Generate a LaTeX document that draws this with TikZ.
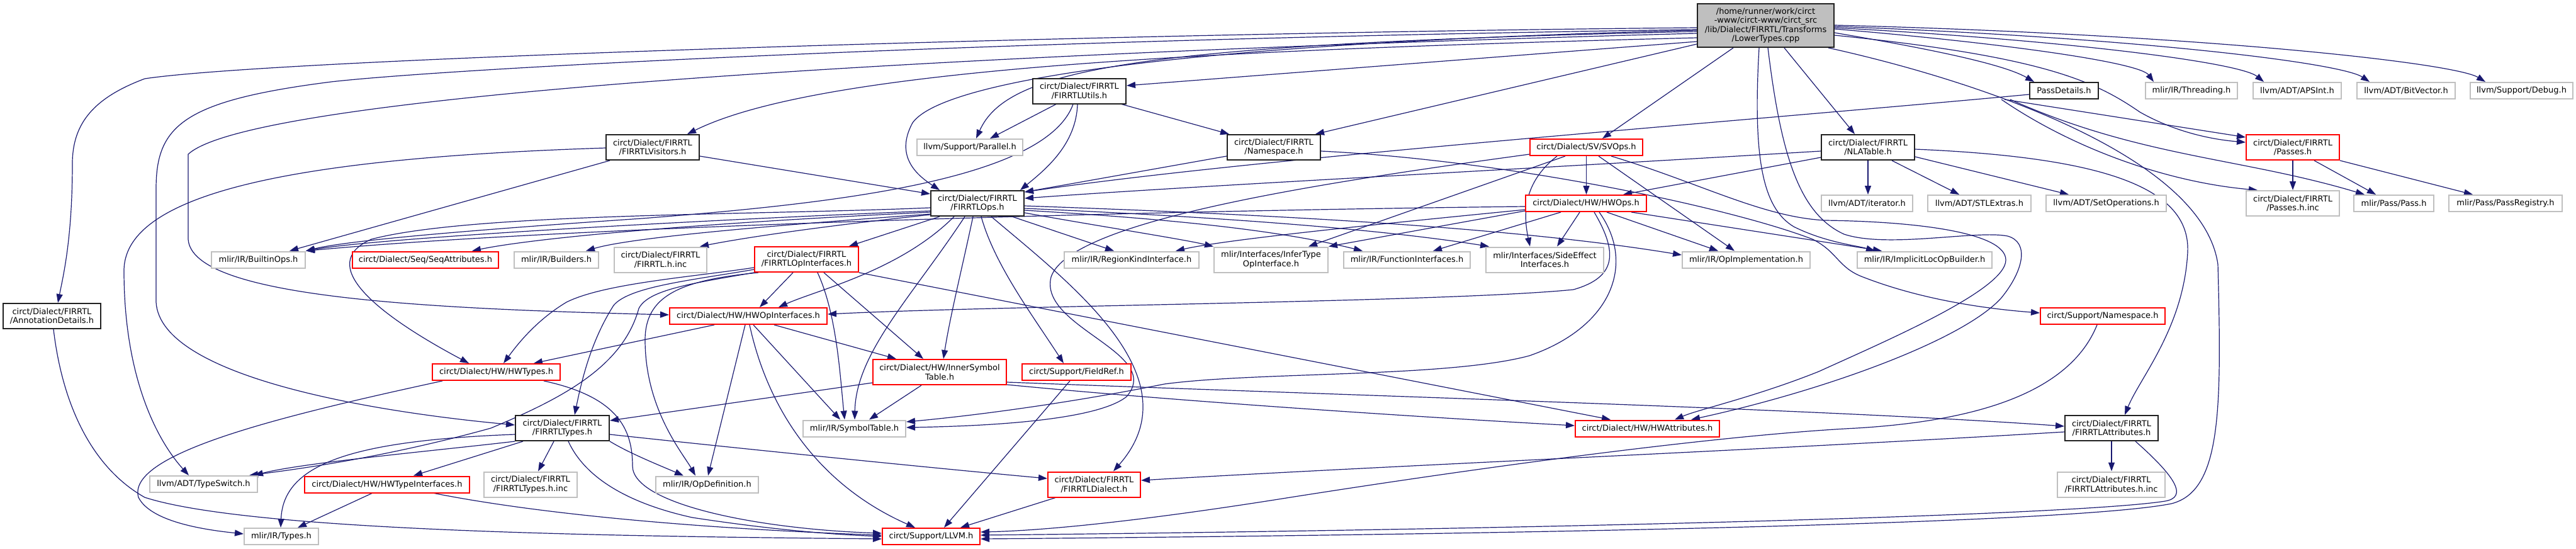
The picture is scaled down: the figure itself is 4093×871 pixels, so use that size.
\documentclass[tikz,border=0pt]{standalone}
\usepackage{fontspec}
\setmainfont{DejaVu Sans}
\usetikzlibrary{arrows.meta}
\pgfdeclarelayer{bg}
\pgfsetlayers{bg,main}
\definecolor{edgec}{HTML}{191970}
\definecolor{grayb}{HTML}{BFBFBF}
\definecolor{blackb}{HTML}{202020}
\begin{document}
\begin{tikzpicture}[x=1pt,y=-1pt,
  every node/.style={font=\fontsize{13}{14.6}\selectfont, align=center, inner sep=0pt, rectangle, fill=white},
  g/.style={draw=grayb, line width=2pt},
  k/.style={draw=blackb, line width=2pt},
  r/.style={draw=red, line width=2pt},
  a/.style={minimum height=26pt},
  b/.style={minimum height=40pt},
  e/.style={draw=edgec, line width=1.2pt, -{Triangle[length=14pt,width=10pt]}}]
\useasboundingbox (0,0) rectangle (4093,871);
% nodes
\node[draw=blackb, line width=2pt, fill=grayb, minimum width=217pt, minimum height=69pt] (R) at (2805.5,40.5) {/home/runner/work/circt\\-www/circt-www/circt\_src\\/lib/Dialect/FIRRTL/Transforms\\/LowerTypes.cpp};
\node[k,b,minimum width=155pt] (AD) at (82.5,502) {circt/Dialect/FIRRTL\\/AnnotationDetails.h};
\node[k,b,minimum width=148pt] (FV) at (1037,234) {circt/Dialect/FIRRTL\\/FIRRTLVisitors.h};
\node[k,b,minimum width=148pt] (FU) at (1715,144.5) {circt/Dialect/FIRRTL\\/FIRRTLUtils.h};
\node[g,a,minimum width=168pt] (PAR) at (1541,234) {llvm/Support/Parallel.h};
\node[k,b,minimum width=148pt] (FN) at (2024,234) {circt/Dialect/FIRRTL\\/Namespace.h};
\node[k,b,minimum width=148pt] (FO) at (1553,323) {circt/Dialect/FIRRTL\\/FIRRTLOps.h};
\node[r,a,minimum width=179pt] (SV) at (2520.5,234) {circt/Dialect/SV/SVOps.h};
\node[r,a,minimum width=192pt] (HWO) at (2520,323) {circt/Dialect/HW/HWOps.h};
\node[k,b,minimum width=148pt] (NLA) at (2968,234) {circt/Dialect/FIRRTL\\/NLATable.h};
\node[g,a,minimum width=145pt] (ITER) at (2966.5,323) {llvm/ADT/iterator.h};
\node[g,a,minimum width=164pt] (STL) at (3145,323) {llvm/ADT/STLExtras.h};
\node[g,a,minimum width=191pt] (SETOP) at (3346.5,323) {llvm/ADT/SetOperations.h};
\node[k,a,minimum width=109pt] (PD) at (3279.5,144) {PassDetails.h};
\node[g,a,minimum width=146pt] (THR) at (3482,144) {mlir/IR/Threading.h};
\node[g,a,minimum width=140pt] (APS) at (3650,144) {llvm/ADT/APSInt.h};
\node[g,a,minimum width=156pt] (BV) at (3823,144) {llvm/ADT/BitVector.h};
\node[g,a,minimum width=163pt] (DBG) at (4006.5,144) {llvm/Support/Debug.h};
\node[r,b,minimum width=148pt] (PS) at (3643,234) {circt/Dialect/FIRRTL\\/Passes.h};
\node[g,b,minimum width=148pt] (PSINC) at (3643,323) {circt/Dialect/FIRRTL\\/Passes.h.inc};
\node[g,a,minimum width=127pt] (PASS) at (3803.5,323) {mlir/Pass/Pass.h};
\node[g,a,minimum width=180pt] (PREG) at (3981,323) {mlir/Pass/PassRegistry.h};
\node[g,a,minimum width=149pt] (BO) at (410.5,412.5) {mlir/IR/BuiltinOps.h};
\node[r,a,minimum width=232pt] (SEQ) at (676,412.5) {circt/Dialect/Seq/SeqAttributes.h};
\node[g,a,minimum width=134pt] (BLD) at (884,412.5) {mlir/IR/Builders.h};
\node[g,b,minimum width=147pt] (FINC) at (1049.5,412.5) {circt/Dialect/FIRRTL\\/FIRRTL.h.inc};
\node[r,b,minimum width=165pt] (FOI) at (1281.5,412) {circt/Dialect/FIRRTL\\/FIRRTLOpInterfaces.h};
\node[g,a,minimum width=214pt] (RK) at (1798,412.5) {mlir/IR/RegionKindInterface.h};
\node[g,b,minimum width=181pt] (IT) at (2019.5,412.5) {mlir/Interfaces/InferType\\OpInterface.h};
\node[g,a,minimum width=201pt] (FI) at (2235.5,412.5) {mlir/IR/FunctionInterfaces.h};
\node[g,b,minimum width=187pt] (SE) at (2454.5,412.5) {mlir/Interfaces/SideEffect\\Interfaces.h};
\node[g,a,minimum width=203pt] (OI) at (2774.5,412.5) {mlir/IR/OpImplementation.h};
\node[g,a,minimum width=214pt] (ILB) at (3058,412.5) {mlir/IR/ImplicitLocOpBuilder.h};
\node[r,a,minimum width=250pt] (HOI) at (1189,502) {circt/Dialect/HW/HWOpInterfaces.h};
\node[r,a,minimum width=198pt] (SN) at (3341,502) {circt/Support/Namespace.h};
\node[r,a,minimum width=203pt] (HWT) at (788.5,591) {circt/Dialect/HW/HWTypes.h};
\node[r,b,minimum width=212pt] (IST) at (1493,591) {circt/Dialect/HW/InnerSymbol\\Table.h};
\node[r,a,minimum width=173pt] (FR) at (1710.5,591) {circt/Support/FieldRef.h};
\node[g,a,minimum width=163pt] (ST) at (1357.5,680.5) {mlir/IR/SymbolTable.h};
\node[r,a,minimum width=229pt] (HWA) at (2617.5,680.5) {circt/Dialect/HW/HWAttributes.h};
\node[k,b,minimum width=149pt] (FT) at (893.5,680) {circt/Dialect/FIRRTL\\/FIRRTLTypes.h};
\node[k,b,minimum width=148pt] (FA) at (3355,680) {circt/Dialect/FIRRTL\\/FIRRTLAttributes.h};
\node[g,a,minimum width=171pt] (TS) at (323.5,769) {llvm/ADT/TypeSwitch.h};
\node[r,a,minimum width=262pt] (HTI) at (615,769.5) {circt/Dialect/HW/HWTypeInterfaces.h};
\node[g,b,minimum width=148pt] (FTINC) at (843,769.5) {circt/Dialect/FIRRTL\\/FIRRTLTypes.h.inc};
\node[g,a,minimum width=163pt] (OD) at (1123.5,769.5) {mlir/IR/OpDefinition.h};
\node[r,b,minimum width=147pt] (FD) at (1738.5,769.5) {circt/Dialect/FIRRTL\\/FIRRTLDialect.h};
\node[g,b,minimum width=171pt] (FAINC) at (3354.5,769.5) {circt/Dialect/FIRRTL\\/FIRRTLAttributes.h.inc};
\node[g,a,minimum width=118pt] (TY) at (447,852) {mlir/IR/Types.h};
\node[r,a,minimum width=155pt] (LL) at (1479.5,852) {circt/Support/LLVM.h};
% edges
\begin{pgfonlayer}{bg}
% root
\draw[e] (R.west |- 0,44) .. controls (1800,52) and (450,92) .. (230,125) .. controls (150,155) and (115,195) .. (115,260) .. controls (115,380) and (100,440) .. (AD.north -| 92,0);
\draw[e] (R.west |- 0,47) .. controls (1600,62) and (720,108) .. (526,130) .. controls (290,160) and (248,200) .. (248,300) -- (248,480) .. controls (255,600) and (600,655) .. (FT.west |- 0,675);
\draw[e] (R.west |- 0,53) .. controls (1500,85) and (400,150) .. (299,245) -- (299,380) .. controls (305,470) and (650,490) .. (HOI.west |- 0,500);
\draw[e] (R.west |- 0,60) .. controls (1900,80) and (1300,110) .. (FV.north -| 1092,0);
\draw[e] (R.west |- 0,66) -- (FU.east |- 0,136);
\draw[e] (R.west |- 0,70) -- (FN.north -| 2090,0);
\draw[e] (R.west |- 0,50) .. controls (1800,70) and (1600,110) .. (PAR.north -| 1551,0);
\draw[e] (R.west |- 0,48) .. controls (1900,68) and (1500,125) .. (1450,195) .. controls (1420,250) and (1460,280) .. (FO.north -| 1493,0);
\draw[e] (R.south -| 2754,0) -- (SV.north -| 2546,0);
\draw[e] (R.south -| 2835,0) -- (NLA.north -| 2947,0);
\draw[e] (R.south -| 2795,0) .. controls (2785,250) and (2800,330) .. (2850,360) .. controls (2900,385) and (2950,390) .. (ILB.north -| 2979,0);
\draw[e] (R.south -| 2809,0) .. controls (2830,250) and (2860,340) .. (2930,372) .. controls (3000,395) and (3140,365) .. (3190,375) .. controls (3225,385) and (3215,430) .. (3180,473) .. controls (3120,540) and (2900,620) .. (HWA.north -| 2687,0);
\draw[e] (R.south -| 2905,0) .. controls (3150,130) and (3500,250) .. (3524,420) .. controls (3530,650) and (3530,780) .. (3450,800) .. controls (3300,830) and (2500,848) .. (LL.east |- 0,856);
\draw[e] (R.east |- 0,52) .. controls (3050,75) and (3180,100) .. (PD.north -| 3232,0);
\draw[e] (R.east |- 0,46) .. controls (3200,70) and (3400,100) .. (THR.north -| 3422,0);
\draw[e] (R.east |- 0,44) .. controls (3300,65) and (3560,100) .. (APS.north -| 3597,0);
\draw[e] (R.east |- 0,42) .. controls (3400,60) and (3720,100) .. (BV.north -| 3765,0);
\draw[e] (R.east |- 0,40) .. controls (3500,55) and (3900,100) .. (DBG.north -| 3949,0);
\draw[e] (R.east |- 0,56) .. controls (3250,90) and (3330,130) .. (3400,178) .. controls (3460,212) and (3520,222) .. (PS.west |- 0,226);
% PassDetails / Passes
\draw[e] (PD.west |- 0,150) .. controls (2800,190) and (2000,250) .. (FO.east |- 0,305);
\draw[e] (PD.south -| 3185,0) -- (PS.west |- 0,218);
\draw[e] (PD.south -| 3180,0) .. controls (3300,240) and (3450,290) .. (PSINC.north -| 3587,0);
\draw[e] (PD.south -| 3194,0) .. controls (3400,250) and (3560,250) .. (PASS.north -| 3757,0);
\draw[e] (PS.south) -- (PSINC.north);
\draw[e] (PS.south -| 3677,0) -- (PASS.north -| 3775,0);
\draw[e] (PS.south east) -- (PREG.north -| 3929,0);
% FIRRTLUtils
\draw[e] (FU.south -| 1678,0) -- (PAR.north -| 1573,0);
\draw[e] (FU.south -| 1712,0) .. controls (1710,230) and (1660,270) .. (FO.north -| 1621,0);
\draw[e] (FU.south -| 1705,0) .. controls (1660,290) and (1300,325) .. (1020,347) .. controls (800,362) and (560,380) .. (BO.north east);
\draw[e] (FU.south -| 1782,0) -- (FN.north -| 1953,0);
% FIRRTLVisitors
\draw[e] (FV.east |- 0,248) -- (FO.west |- 0,308);
\draw[e] (FV.south -| 969,0) -- (BO.north -| 460,0);
\draw[e] (FV.west |- 0,235) .. controls (500,250) and (197,300) .. (197,430) .. controls (197,600) and (250,700) .. (TS.north -| 300,0);
% Namespace
\draw[e] (FN.west |- 0,248) -- (FO.east |- 0,305);
\draw[e] (FN.east |- 0,240) .. controls (2400,255) and (2750,330) .. (2880,380) .. controls (2920,400) and (2920,425) .. (2960,440) .. controls (3050,475) and (3150,490) .. (SN.west |- 0,497);
% NLATable
\draw[e] (NLA.west |- 0,240) .. controls (2400,270) and (1900,295) .. (FO.east |- 0,315);
\draw[e] (NLA.west |- 0,250) -- (HWO.north -| 2579,0);
\draw[e] (NLA.south) -- (ITER.north -| 2968,0);
\draw[e] (NLA.south -| 3006,0) -- (STL.north -| 3113,0);
\draw[e] (NLA.east |- 0,249) -- (SETOP.north -| 3287,0);
\draw[e] (NLA.east |- 0,237) .. controls (3350,250) and (3480,300) .. (3476,400) .. controls (3470,520) and (3400,600) .. (FA.north -| 3376,0);
% SVOps
\draw[e] (SV.south) -- (HWO.north -| 2520.5,0);
\draw[e] (SV.west |- 0,245) .. controls (2100,290) and (1700,350) .. (1670,440) .. controls (1650,520) and (1850,560) .. (1790,630) .. controls (1740,670) and (1550,677) .. (ST.east |- 0,679);
\draw[e] (SV.south -| 2487,0) -- (IT.north -| 2079,0);
\draw[e] (SV.south -| 2474,0) .. controls (2420,290) and (2420,340) .. (SE.north -| 2431,0);
\draw[e] (SV.south -| 2540,0) -- (OI.north -| 2756,0);
\draw[e] (SV.south -| 2560,0) .. controls (2700,290) and (2800,345) .. (2900,350) .. controls (3050,352) and (3187,370) .. (3187,413) .. controls (3187,460) and (3000,540) .. (2890,590) .. controls (2790,630) and (2700,650) .. (HWA.north -| 2661,0);
% HWOps
\draw[e] (HWO.west |- 0,328) .. controls (1800,335) and (900,360) .. (BO.north east);
\draw[e] (HWO.south -| 2533,0) .. controls (2570,400) and (2570,440) .. (2500,460) .. controls (2300,480) and (1600,485) .. (HOI.east |- 0,499);
\draw[e] (HWO.south -| 2541,0) .. controls (2600,420) and (2560,520) .. (2430,565) .. controls (2300,600) and (2000,590) .. (1850,610) .. controls (1700,640) and (1550,660) .. (ST.east |- 0,670);
\draw[e] (HWO.west |- 0,335) -- (IT.north east);
\draw[e] (HWO.south -| 2480,0) -- (FI.north -| 2277,0);
\draw[e] (HWO.south -| 2510,0) -- (SE.north -| 2474,0);
\draw[e] (HWO.south -| 2553,0) -- (OI.north -| 2730,0);
\draw[e] (HWO.south -| 2592,0) -- (ILB.north -| 2990,0);
\draw[e] (HWO.west |- 0,333) .. controls (2200,355) and (1950,380) .. (RK.north -| 1868,0);
% FIRRTLOps
\draw[e] (FO.west |- 0,335) .. controls (1100,350) and (600,378) .. (BO.north east);
\draw[e] (FO.west |- 0,337) .. controls (1100,355) and (850,378) .. (SEQ.north -| 750,0);
\draw[e] (FO.west |- 0,340) .. controls (1200,360) and (1000,378) .. (BLD.north -| 931,0);
\draw[e] (FO.west |- 0,341) .. controls (1300,360) and (1180,378) .. (FINC.north -| 1112,0);
\draw[e] (FO.south -| 1493,0) -- (FOI.north -| 1349,0);
\draw[e] (FO.west |- 0,330) .. controls (1200,342) and (750,338) .. (590,380) .. controls (500,420) and (600,500) .. (HWT.north -| 745,0);
\draw[e] (FO.south -| 1516,0) .. controls (1430,430) and (1300,460) .. (HOI.north -| 1237,0);
\draw[e] (FO.south -| 1546,0) .. controls (1530,420) and (1510,500) .. (IST.north -| 1499,0);
\draw[e] (FO.south -| 1533,0) .. controls (1450,470) and (1360,560) .. (ST.north -| 1358,0);
\draw[e] (FO.south -| 1559,0) .. controls (1580,420) and (1640,500) .. (FR.north -| 1690,0);
\draw[e] (FO.south -| 1575,0) .. controls (1700,450) and (1900,600) .. (FD.north -| 1769,0);
\draw[e] (FO.south -| 1608,0) -- (RK.north -| 1770,0);
\draw[e] (FO.east |- 0,338) .. controls (1750,360) and (1880,380) .. (IT.north west);
\draw[e] (FO.east |- 0,334) .. controls (1900,350) and (2050,370) .. (FI.north -| 2165,0);
\draw[e] (FO.east |- 0,331) .. controls (1950,345) and (2200,365) .. (SE.north -| 2366,0);
\draw[e] (FO.east |- 0,327) .. controls (2000,340) and (2400,360) .. (OI.west |- 0,405);
% FIRRTLOpInterfaces
\draw[e] (FOI.west |- 0,425) .. controls (1100,440) and (960,450) .. (900,480) .. controls (850,510) and (820,550) .. (HWT.north -| 800,0);
\draw[e] (FOI.west |- 0,428) .. controls (1100,445) and (1000,455) .. (975,485) .. controls (940,540) and (925,600) .. (FT.north -| 913,0);
\draw[e] (FOI.south west) .. controls (1100,450) and (1030,460) .. (1015,490) .. controls (990,580) and (900,630) .. (780,680) .. controls (600,730) and (450,748) .. (TS.north -| 396,0);
\draw[e] (FOI.south -| 1260,0) -- (HOI.north -| 1207,0);
\draw[e] (FOI.south -| 1309,0) -- (IST.north -| 1467,0);
\draw[e] (FOI.south -| 1299,0) .. controls (1330,500) and (1335,600) .. (ST.north -| 1342,0);
\draw[e] (FOI.south east) -- (HWA.north -| 2559,0);
\draw[e] (FOI.south -| 1205,0) .. controls (1080,445) and (1025,470) .. (1025,540) .. controls (1025,650) and (1085,720) .. (OD.north -| 1105,0);
% HWOpInterfaces
\draw[e] (HOI.south -| 1135,0) -- (HWT.north -| 848,0);
\draw[e] (HOI.south -| 1230,0) -- (IST.north -| 1424,0);
\draw[e] (HOI.south -| 1197,0) -- (ST.north -| 1335,0);
\draw[e] (HOI.south -| 1184,0) -- (OD.north -| 1125,0);
\draw[e] (HOI.south -| 1191,0) .. controls (1220,650) and (1300,770) .. (LL.north -| 1454,0);
% HWTypes
\draw[e] (HWT.south -| 703,0) .. controls (450,660) and (200,720) .. (220,790) .. controls (240,830) and (330,842) .. (TY.west |- 0,848);
\draw[e] (HWT.south -| 864,0) .. controls (980,630) and (1005,680) .. (1005,740) .. controls (1005,800) and (1200,840) .. (LL.west |- 0,847);
% InnerSymbolTable
\draw[e] (IST.south -| 1464,0) -- (ST.north -| 1381,0);
\draw[e] (IST.west |- 0,608) -- (FT.east |- 0,668);
\draw[e] (IST.east |- 0,611) .. controls (1900,640) and (2300,665) .. (HWA.west |- 0,676);
\draw[e] (IST.east |- 0,607) .. controls (2200,630) and (2900,650) .. (FA.west |- 0,677);
% FieldRef
\draw[e] (FR.south -| 1700,0) -- (LL.north -| 1500,0);
% FIRRTLTypes
\draw[e] (FT.south west) .. controls (700,715) and (480,735) .. (TS.north -| 404,0);
\draw[e] (FT.south -| 831,0) -- (HTI.north -| 657,0);
\draw[e] (FT.south -| 880,0) -- (FTINC.north -| 855,0);
\draw[e] (FT.south east) .. controls (1000,720) and (1050,740) .. (OD.north -| 1086,0);
\draw[e] (FT.south -| 903,0) .. controls (930,760) and (1000,800) .. (1100,822) .. controls (1250,845) and (1350,850) .. (LL.west |- 0,852);
\draw[e] (FT.west |- 0,690) .. controls (550,700) and (450,740) .. (TY.north -| 446,0);
\draw[e] (FT.east |- 0,690) .. controls (1200,715) and (1500,745) .. (FD.west |- 0,760);
% HWTypeInterfaces
\draw[e] (HTI.south -| 591,0) -- (TY.north -| 473,0);
\draw[e] (HTI.south -| 690,0) .. controls (900,825) and (1200,843) .. (LL.west |- 0,850);
% AnnotationDetails
\draw[e] (AD.south -| 85,0) .. controls (100,650) and (150,745) .. (230,790) .. controls (400,845) and (1000,852) .. (LL.west |- 0,856);
% FIRRTLDialect
\draw[e] (FD.south -| 1677,0) -- (LL.north -| 1526,0);
% FIRRTLAttributes
\draw[e] (FA.south) -- (FAINC.north -| 3355,0);
\draw[e] (FA.south -| 3393,0) .. controls (3460,760) and (3475,790) .. (3440,796) .. controls (3300,818) and (2500,840) .. (LL.east |- 0,850);
\draw[e] (FA.west |- 0,686) .. controls (2800,715) and (2200,740) .. (FD.east |- 0,763);
% Support/Namespace
\draw[e] (SN.south -| 3332,0) .. controls (3290,620) and (3150,668) .. (2950,680) .. controls (2750,690) and (2400,735) .. (2050,790) .. controls (1800,830) and (1650,843) .. (LL.east |- 0,845);
\end{pgfonlayer}
\end{tikzpicture}
\end{document}
